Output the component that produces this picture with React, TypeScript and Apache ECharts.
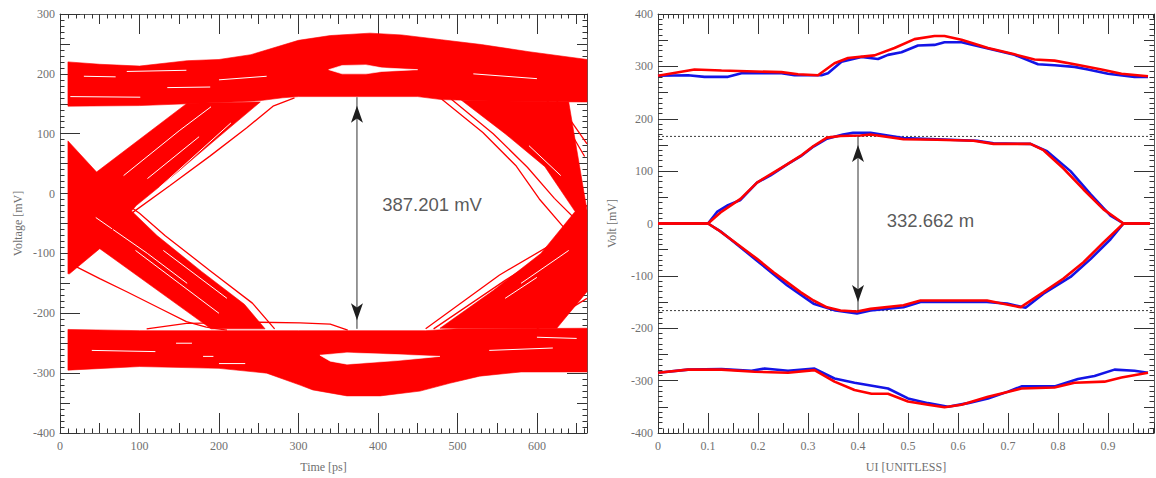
import React, { useEffect, useRef } from 'react';
import * as echarts from 'echarts';

// ---------------- LEFT: eye diagram (time ps, voltage mV) ----------------
const eyeTopBand = [
  [10, 220], [50, 216], [100, 213], [160, 222], [200, 224], [240, 232], [300, 256], [340, 264], [390, 268],
  [430, 265], [480, 257], [530, 249], [590, 237], [663, 224],
  [663, 153], [560, 154], [480, 157], [450, 162], [300, 162], [280, 160], [250, 155], [160, 150], [100, 147], [10, 146],
];
const eyeBottomBand = [
  [10, -227], [100, -229], [200, -229], [300, -229], [460, -229], [500, -226], [663, -225],
  [663, -298], [580, -298], [528, -305], [490, -317], [453, -330], [403, -338], [361, -338], [318, -328],
  [302, -320], [260, -300], [200, -292], [100, -289], [10, -295],
];
const eyeLeftCross = [
  [10, 88], [46, 36], [160, 151], [252, 153], [201, 96], [147, 35], [96, -20], [90, -29], [122, -70],
  [178, -130], [232, -185], [258, -226], [190, -226], [50, -92], [12, -134], [10, -134],
];
const eyeRightCross = [
  [505, 156], [560, 100], [610, 45], [648, -30], [605, -100], [545, -162], [478, -225], [625, -225],
  [663, -164], [663, -28], [640, 153],
];
const eyeTopHole = [[338, 207], [355, 214], [385, 215], [405, 210], [450, 207], [405, 204], [385, 200], [355, 200]];
const eyeBottomHole = [[327, -270], [361, -266], [424, -269], [478, -272], [424, -279], [361, -285], [340, -280]];

const eyeLoneTraces = [
  [[60, -66], [92, -31], [138, 13], [189, 63], [235, 110], [268, 146], [295, 160]],
  [[60, 5], [100, -33], [132, -70], [188, -128], [242, -183], [270, -226]],
  [[14, -118], [50, -142], [84, -164], [126, -192], [159, -214], [184, -223], [210, -228]],
  [[109, -226], [159, -217], [250, -215], [302, -216], [340, -218], [362, -228]],
  [[480, 158], [532, 102], [574, 46], [603, -9], [634, -57], [663, -90]],
  [[492, 158], [545, 100], [588, 44], [622, -8], [663, -62]],
  [[460, -226], [553, -136], [616, -87], [634, -59], [663, -20]],
  [[470, -226], [560, -145], [620, -95], [663, -45]],
  [[604, 168], [630, 130], [660, 62]],
  [[624, 157], [663, 83]],
  [[600, -226], [663, -175]],
];
const eyeGapStreaks = [
  [[84, 204], [159, 206]],
  [[135, 177], [189, 178]],
  [[13, 162], [101, 161]],
  [[30, 196], [70, 195]],
  [[200, 190], [260, 196]],
  [[146, -250], [166, -250]],
  [[180, -272], [193, -272]],
  [[200, -284], [233, -284]],
  [[40, -262], [120, -264]],
  [[520, 200], [600, 192]],
  [[540, -262], [620, -258]],
  [[600, -240], [650, -242]],
  [[80, 30], [150, 105], [190, 145]],
  [[110, 25], [175, 95]],
  [[125, 10], [215, 118]],
  [[45, -40], [110, -100], [160, -150]],
  [[95, -95], [150, -150], [200, -200]],
  [[130, -95], [210, -175]],
  [[560, 75], [610, 15]],
  [[590, 80], [630, 30]],
  [[580, -150], [640, -95]],
  [[560, -175], [600, -140]],
];
const eyeMeasure = [[373.6, 161], [373.6, -226]];
const eyeMeasureLabel = [468, -17.5];

// ---------------- RIGHT: contours (UI, mV) ----------------
const outerTopRed = [[0, 282], [0.073, 294], [0.127, 292], [0.247, 289], [0.28, 285], [0.32, 283], [0.353, 306], [0.38, 316], [0.433, 321], [0.473, 335], [0.513, 352], [0.553, 358], [0.573, 358], [0.607, 351], [0.66, 335], [0.713, 323], [0.753, 313], [0.793, 311], [0.833, 304], [0.887, 294], [0.927, 286], [0.98, 281]];
const outerTopBlue = [[0, 282], [0.06, 283], [0.093, 280], [0.14, 280], [0.167, 287], [0.247, 287], [0.273, 283], [0.327, 283], [0.34, 287], [0.367, 309], [0.407, 318], [0.44, 314], [0.46, 322], [0.487, 327], [0.52, 340], [0.553, 341], [0.573, 346], [0.607, 346], [0.66, 334], [0.713, 322], [0.76, 304], [0.793, 302], [0.833, 299], [0.86, 294], [0.9, 286], [0.953, 280], [0.98, 280]];
const outerBotRed = [[0, -285], [0.06, -279], [0.127, -279], [0.193, -283], [0.26, -285], [0.313, -280], [0.353, -302], [0.393, -318], [0.427, -325], [0.46, -325], [0.5, -340], [0.54, -346], [0.573, -351], [0.607, -346], [0.66, -331], [0.693, -323], [0.727, -315], [0.793, -313], [0.833, -304], [0.893, -302], [0.927, -294], [0.98, -285]];
const outerBotBlue = [[0, -285], [0.06, -279], [0.127, -278], [0.187, -281], [0.213, -277], [0.26, -281], [0.313, -277], [0.353, -296], [0.393, -304], [0.46, -315], [0.5, -334], [0.54, -343], [0.58, -350], [0.62, -343], [0.66, -334], [0.7, -321], [0.727, -311], [0.793, -311], [0.84, -297], [0.873, -291], [0.913, -279], [0.953, -281], [0.98, -285]];
const innerTopRed = [[0, 0], [0.1, 0], [0.125, 21], [0.165, 47], [0.198, 78], [0.225, 94], [0.258, 113], [0.285, 129], [0.311, 148], [0.338, 164], [0.365, 167], [0.405, 168], [0.425, 170], [0.491, 161], [0.558, 160], [0.631, 158], [0.671, 152], [0.745, 152], [0.771, 140], [0.811, 105], [0.851, 65], [0.891, 27], [0.931, 0], [0.984, 0]];
const innerTopBlue = [[0, 0], [0.1, 0], [0.118, 22], [0.14, 35], [0.165, 45], [0.198, 78], [0.225, 92], [0.26, 114], [0.285, 128], [0.311, 147], [0.338, 162], [0.37, 170], [0.39, 173], [0.425, 173], [0.491, 163], [0.558, 161], [0.638, 158], [0.671, 153], [0.745, 152], [0.778, 138], [0.825, 100], [0.865, 56], [0.905, 15], [0.931, 0], [0.984, 0]];
const innerBotRed = [[0, 0], [0.1, 0], [0.12, -12], [0.145, -29.5], [0.198, -67.5], [0.231, -93], [0.258, -112], [0.285, -131], [0.311, -147], [0.338, -160], [0.365, -166], [0.398, -168], [0.425, -163], [0.491, -156], [0.525, -147], [0.591, -147], [0.658, -147], [0.725, -160], [0.771, -131], [0.811, -105], [0.851, -74], [0.891, -36], [0.931, 0], [0.984, 0]];
const innerBotBlue = [[0, 0], [0.1, 0], [0.125, -15], [0.145, -30], [0.198, -71], [0.258, -118], [0.311, -153], [0.355, -166], [0.398, -172], [0.425, -166], [0.491, -160], [0.525, -150], [0.591, -150], [0.658, -150], [0.698, -153], [0.735, -161], [0.771, -134], [0.825, -102], [0.865, -68], [0.905, -30], [0.931, 0], [0.984, 0]];
const contourLimits = [166.3, -166.3];
const contourMeasure = [[0.4, 166.3], [0.4, -166.3]];
const contourMeasureLabel = [0.545, 4.8];

const AXIS_LINE = '#5a5a5a';
const TICK = '#333333';
const LABEL = '#707070';
const SERIF = 'Liberation Serif, DejaVu Serif, serif';
const SANS = 'Liberation Sans, Arial, sans-serif';
const RED = '#ff0000';
const BLUE = '#1414e6';

function axisSet(dim: 'x' | 'y', grid: number, min: number, max: number, steps: number[], name: string, nameGap: number) {
  const sides = dim === 'x' ? ['bottom', 'top'] : ['left', 'right'];
  const lens = [20, 10, 4.5];
  const out: any[] = [];
  sides.forEach((pos, si) => {
    steps.forEach((iv, k) => {
      const primary = si === 0 && k === 0;
      out.push({
        type: 'value', gridIndex: grid, position: pos, min, max, interval: iv,
        axisLine: { show: k === 0, onZero: false, lineStyle: { color: AXIS_LINE, width: 1 } },
        axisTick: { show: true, inside: true, length: lens[k], lineStyle: { color: TICK, width: 1 } },
        axisLabel: {
          show: primary, color: LABEL, fontFamily: SERIF, fontSize: 12,
          margin: dim === 'x' ? 7 : 5, showMaxLabel: dim === 'x' ? false : true,
        },
        splitLine: { show: false },
        name: primary ? name : '',
        nameLocation: 'middle', nameGap,
        nameTextStyle: { color: LABEL, fontFamily: SERIF, fontSize: 12 },
      });
    });
  });
  return out;
}

function polygon(points: number[][], xi: number, yi: number, fill: string, z: number) {
  return {
    type: 'custom', xAxisIndex: xi, yAxisIndex: yi, silent: true, z,
    data: [points[0]],
    renderItem: (_p: any, api: any) => ({
      type: 'polygon',
      shape: { points: points.map((pt) => api.coord(pt)) },
      style: { fill, stroke: fill, lineWidth: 0.6 },
    }),
  };
}

function line(data: number[][], xi: number, yi: number, color: string, width: number, z: number, extra: any = {}) {
  return {
    type: 'line', xAxisIndex: xi, yAxisIndex: yi, data, showSymbol: false, symbol: 'none', silent: true, z,
    lineStyle: { color, width, ...(extra.lineStyle || {}) },
  };
}

function arrow(pts: number[][], xi: number, yi: number) {
  return {
    type: 'line', xAxisIndex: xi, yAxisIndex: yi, silent: true, z: 10,
    symbol: 'arrow', symbolSize: [9, 17], showSymbol: true,
    itemStyle: { color: '#1e1e1e' },
    lineStyle: { color: '#333', width: 1 },
    data: [
      { value: pts[0], symbolRotate: 0, symbolOffset: [0, 8.5] },
      { value: pts[1], symbolRotate: 180, symbolOffset: [0, -8.5] },
    ],
  };
}

function textMark(pos: number[], text: string, xi: number, yi: number) {
  return {
    type: 'scatter', xAxisIndex: xi, yAxisIndex: yi, silent: true, z: 11,
    symbolSize: 1, itemStyle: { color: 'rgba(0,0,0,0)' },
    data: [pos],
    label: { show: true, position: 'inside', formatter: text, fontFamily: SANS, fontSize: 18.5, color: '#2e2e2e' },
  };
}

export default function App() {
  const ref = useRef<HTMLDivElement>(null);
  useEffect(() => {
    if (!ref.current) return;
    const chart = echarts.init(ref.current, null, { renderer: 'svg' });
    const xAxis = [
      ...axisSet('x', 0, 0, 663, [100, 50, 10], 'Time [ps]', 28),
      ...axisSet('x', 1, 0, 0.992, [0.1, 0.05, 0.01], 'UI [UNITLESS]', 28),
    ];
    const yAxis = [
      ...axisSet('y', 0, -400, 300, [100, 50, 10], 'Voltage [mV]', 36),
      ...axisSet('y', 1, -400, 400, [100, 50, 10], 'Volt [mV]', 40),
    ];
    const series: any[] = [
      polygon(eyeTopBand, 0, 0, RED, 1),
      polygon(eyeBottomBand, 0, 0, RED, 1),
      polygon(eyeLeftCross, 0, 0, RED, 1),
      polygon(eyeRightCross, 0, 0, RED, 1),
      polygon(eyeTopHole, 0, 0, '#ffffff', 2),
      polygon(eyeBottomHole, 0, 0, '#ffffff', 2),
      ...eyeGapStreaks.map((s) => line(s, 0, 0, '#ffffff', 1, 3)),
      ...eyeLoneTraces.map((s) => line(s, 0, 0, RED, 1.3, 4)),
      arrow(eyeMeasure, 0, 0),
      textMark(eyeMeasureLabel, '387.201 mV', 0, 0),
      ...contourLimits.map((v) => line([[0, v], [0.992, v]], 6, 6, '#3a3a3a', 1, 2, { lineStyle: { type: [2, 2] } })),
      line(outerTopBlue, 6, 6, BLUE, 2.6, 3),
      line(innerTopBlue, 6, 6, BLUE, 2.6, 3),
      line(innerBotBlue, 6, 6, BLUE, 2.6, 3),
      line(outerBotBlue, 6, 6, BLUE, 2.6, 3),
      line(outerTopRed, 6, 6, RED, 2.6, 4),
      line(innerTopRed, 6, 6, RED, 2.6, 4),
      line(innerBotRed, 6, 6, RED, 2.6, 4),
      line(outerBotRed, 6, 6, RED, 2.6, 4),
      arrow(contourMeasure, 6, 6),
      textMark(contourMeasureLabel, '332.662 m', 6, 6),
    ];
    chart.setOption({
      animation: false,
      backgroundColor: '#ffffff',
      grid: [
        { left: 60, top: 14, width: 527, height: 421, containLabel: false },
        { left: 658, top: 14, width: 496, height: 421, containLabel: false },
      ],
      xAxis,
      yAxis,
      series,
    });
    return () => chart.dispose();
  }, []);
  return <div ref={ref} style={{ position: 'fixed', left: 0, top: 0, width: 1156, height: 478, background: '#fff' }} />;
}
